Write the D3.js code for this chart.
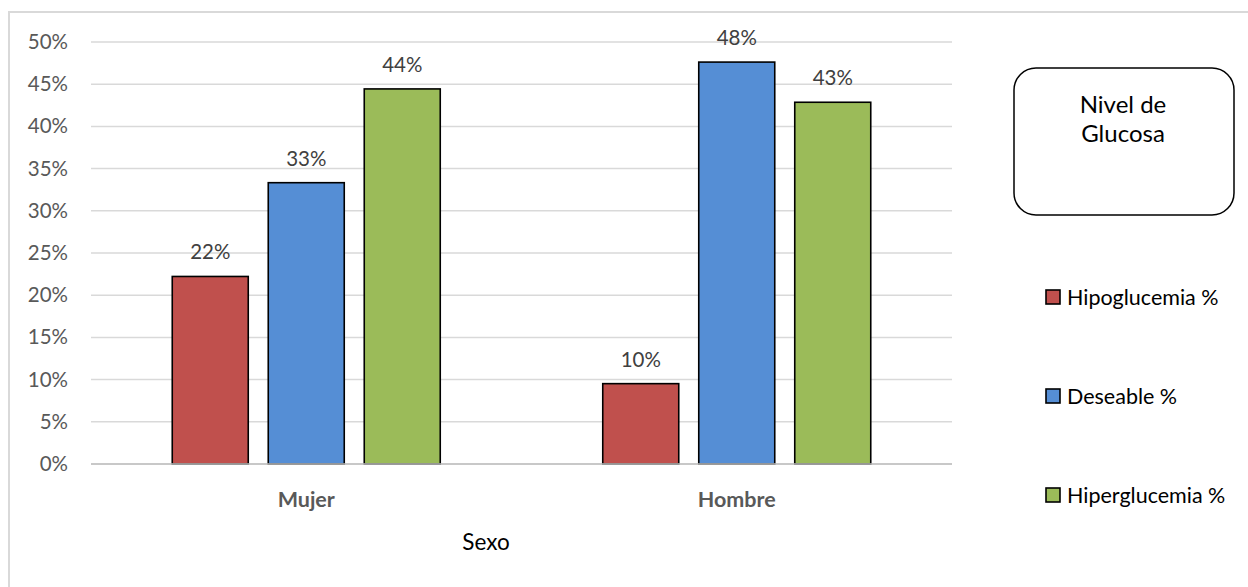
<!DOCTYPE html>
<html>
<head>
<meta charset="utf-8">
<script src="https://cdn.jsdelivr.net/npm/d3@7"></script>
<style>
  html, body { margin: 0; padding: 0; background: #fff; }
  svg { display: block; font-family: Lato, "Open Sans", sans-serif; }
</style>
</head>
<body>
<svg id="chart" width="1248" height="587"></svg>
<script>
// Glucose level distribution by sex
const categories = ["Mujer", "Hombre"];
const seriesNames = ["Hipoglucemia %", "Deseable %", "Hiperglucemia %"];
const hipoglucemia = [0.2222, 0.0952];
const deseable = [0.3333, 0.4762];
const hiperglucemia = [0.4444, 0.4286];
const yTicks = [0, 0.05, 0.10, 0.15, 0.20, 0.25, 0.30, 0.35, 0.40, 0.45, 0.50];
const colors = ["#C0504D", "#558ED5", "#9BBB59"];

const seriesValues = [hipoglucemia, deseable, hiperglucemia];
const rows = categories.map((c, i) => ({
  category: c,
  values: seriesNames.map((s, j) => ({ series: s, idx: j, value: seriesValues[j][i] }))
}));

const svg = d3.select("#chart");
const plot = { left: 91, right: 952, top: 42, bottom: 464 };

// outer chart frame
svg.append("rect")
  .attr("x", 9).attr("y", 12)
  .attr("width", 1300).attr("height", 700)
  .attr("fill", "none").attr("stroke", "#D9D9D9").attr("stroke-width", 2);

const y = d3.scaleLinear().domain([0, 0.5]).range([plot.bottom, plot.top]);
const x0 = d3.scaleBand().domain(categories).range([plot.left, plot.right]).padding(0);
const groupWidth = 268;
const x1 = d3.scaleBand().domain(seriesNames).range([0, groupWidth]).paddingInner(20 / 96).paddingOuter(0);

// gridlines
svg.append("g")
  .selectAll("line")
  .data(yTicks)
  .join("line")
  .attr("x1", plot.left).attr("x2", plot.right)
  .attr("y1", d => y(d)).attr("y2", d => y(d))
  .attr("stroke", "#D9D9D9").attr("stroke-width", 1.5);

// y axis labels
const yAxis = d3.axisLeft(y).tickValues(yTicks).tickFormat(d3.format(".0%")).tickSize(0).tickPadding(0);
const yg = svg.append("g").attr("transform", `translate(68,0)`).call(yAxis);
yg.select(".domain").remove();
yg.selectAll("text")
  .attr("fill", "#595959")
  .style("font-size", "20.5px")
  .style("font-family", "Lato, 'Open Sans', sans-serif");

// bars
const groups = svg.append("g")
  .selectAll("g")
  .data(rows)
  .join("g")
  .attr("transform", d => `translate(${x0(d.category) + (x0.bandwidth() - groupWidth) / 2},0)`);

groups.selectAll("rect")
  .data(d => d.values)
  .join("rect")
  .attr("x", d => x1(d.series))
  .attr("y", d => y(d.value))
  .attr("width", x1.bandwidth())
  .attr("height", d => y(0) - y(d.value))
  .attr("fill", d => colors[d.idx])
  .attr("stroke", "#000").attr("stroke-width", 1.6);

// value labels
groups.selectAll("text")
  .data(d => d.values)
  .join("text")
  .attr("x", d => x1(d.series) + x1.bandwidth() / 2)
  .attr("y", d => y(d.value) - 17)
  .attr("text-anchor", "middle")
  .attr("fill", "#404040")
  .style("font-size", "20.5px")
  .text(d => d3.format(".0%")(d.value));

// baseline
svg.append("line")
  .attr("x1", plot.left).attr("x2", plot.right)
  .attr("y1", y(0)).attr("y2", y(0))
  .attr("stroke", "#BFBFBF").attr("stroke-width", 1.5);

// category labels
svg.append("g")
  .selectAll("text")
  .data(categories)
  .join("text")
  .attr("x", d => x0(d) + x0.bandwidth() / 2)
  .attr("y", 507)
  .attr("text-anchor", "middle")
  .attr("fill", "#595959")
  .style("font-size", "21.5px")
  .style("font-weight", "bold")
  .text(d => d);

// x axis title
svg.append("text")
  .attr("x", 486).attr("y", 550)
  .attr("text-anchor", "middle")
  .attr("fill", "#000")
  .style("font-size", "22.5px")
  .text("Sexo");

// legend title box
svg.append("rect")
  .attr("x", 1014).attr("y", 68)
  .attr("width", 220).attr("height", 147)
  .attr("rx", 22).attr("ry", 22)
  .attr("fill", "#fff").attr("stroke", "#000").attr("stroke-width", 1.5);
svg.append("text")
  .attr("x", 1123).attr("y", 113)
  .attr("text-anchor", "middle").attr("fill", "#000")
  .style("font-size", "24px")
  .text("Nivel de");
svg.append("text")
  .attr("x", 1123).attr("y", 142)
  .attr("text-anchor", "middle").attr("fill", "#000")
  .style("font-size", "24px")
  .text("Glucosa");

// legend entries
const legendY = d3.scalePoint().domain(seriesNames).range([297, 495]);
const leg = svg.append("g")
  .selectAll("g")
  .data(seriesNames)
  .join("g")
  .attr("transform", d => `translate(1046,${legendY(d)})`);
leg.append("rect")
  .attr("x", 0).attr("y", -7)
  .attr("width", 14).attr("height", 14)
  .attr("fill", (d, i) => colors[i])
  .attr("stroke", "#000").attr("stroke-width", 1.6);
leg.append("text")
  .attr("x", 21).attr("y", 0)
  .attr("dy", "0.36em")
  .attr("fill", "#000")
  .style("font-size", "21.5px")
  .text(d => d);
</script>
</body>
</html>
